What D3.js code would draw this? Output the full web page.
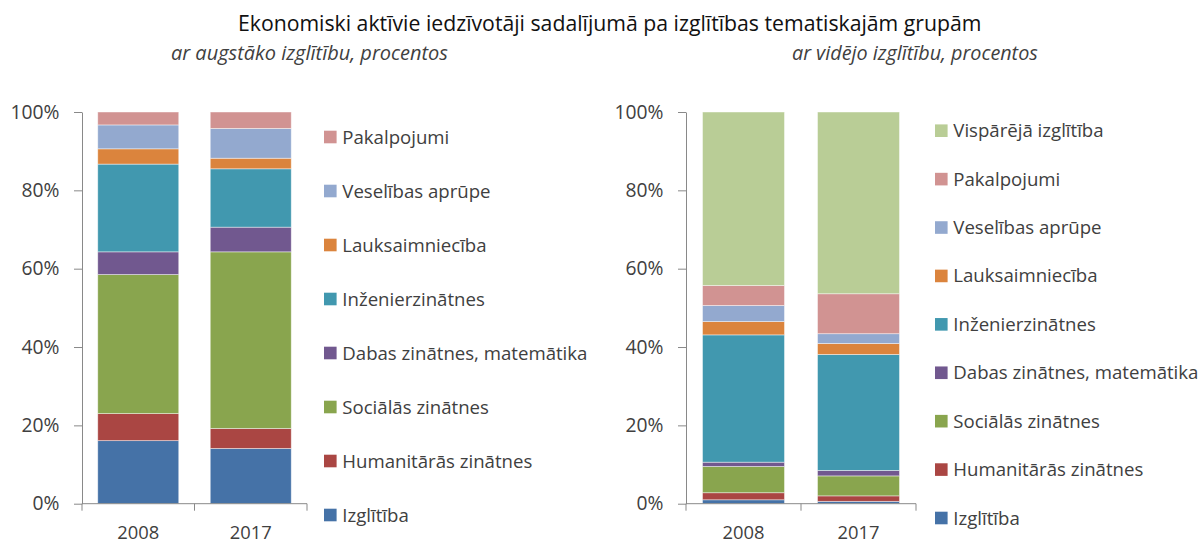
<!DOCTYPE html>
<html><head><meta charset="utf-8">
<script src="https://cdn.jsdelivr.net/npm/d3@7"></script>
<style>body{margin:0;background:#fff} text{font-family:"Open Sans","Noto Sans",sans-serif}</style>
</head><body><svg id="c" width="1203" height="545"></svg>
<script>
const years = ["2008", "2017"];
const groupsHigher = ["Izglītība", "Humanitārās zinātnes", "Sociālās zinātnes", "Dabas zinātnes, matemātika", "Inženierzinātnes", "Lauksaimniecība", "Veselības aprūpe", "Pakalpojumi"];
const higher2008 = [16.1, 6.9, 35.5, 5.8, 22.4, 3.9, 6.1, 3.3];
const higher2017 = [14.1, 5.1, 45.1, 6.3, 14.9, 2.7, 7.6, 4.2];
const groupsSecondary = ["Izglītība", "Humanitārās zinātnes", "Sociālās zinātnes", "Dabas zinātnes, matemātika", "Inženierzinātnes", "Lauksaimniecība", "Veselības aprūpe", "Pakalpojumi", "Vispārējā izglītība"];
const secondary2008 = [1.0, 1.8, 6.7, 1.1, 32.5, 3.4, 4.1, 5.1, 44.3];
const secondary2017 = [0.6, 1.4, 5.1, 1.4, 29.6, 2.8, 2.5, 10.2, 46.4];
const yTicks = [0, 20, 40, 60, 80, 100];
const titleText = "Ekonomiski aktīvie iedzīvotāji sadalījumā pa izglītības tematiskajām grupām";
const subtitleHigher = "ar augstāko izglītību, procentos";
const subtitleSecondary = "ar vidējo izglītību, procentos";

const palette = {
  "Izglītība": "#4572A7",
  "Humanitārās zinātnes": "#AA4643",
  "Sociālās zinātnes": "#89A54E",
  "Dabas zinātnes, matemātika": "#71588F",
  "Inženierzinātnes": "#4198AF",
  "Lauksaimniecība": "#DB843D",
  "Veselības aprūpe": "#93A9CF",
  "Pakalpojumi": "#D19392",
  "Vispārējā izglītība": "#B9CD96"
};

const svg = d3.select("#c");
const axisColor = "#898989";
const textColor = "#404040";

function fitWidth(sel, target) {
  const node = sel.node();
  const fs = parseFloat(sel.attr("font-size"));
  const w = node.getComputedTextLength();
  const nfs = fs * target / w;
  sel.attr("font-size", nfs);
  return nfs;
}

// Title and subtitles
const t = svg.append("text").attr("x", 609.7).attr("y", 31).attr("text-anchor", "middle")
  .attr("fill", "#111").attr("font-size", 20).text(titleText);
fitWidth(t, 744);
const s1 = svg.append("text").attr("x", 171).attr("y", 60).attr("font-style", "italic")
  .attr("fill", textColor).attr("font-size", 18).text(subtitleHigher);
fitWidth(s1, 277);
const s2 = svg.append("text").attr("x", 792).attr("y", 60).attr("font-style", "italic")
  .attr("fill", textColor).attr("font-size", 18).text(subtitleSecondary);
fitWidth(s2, 246);

// measure font sizes
const probe = svg.append("text").attr("font-size", 20).text("100%");
const tickFs = fitWidth(probe, 49);
probe.remove();
const probe2 = svg.append("text").attr("font-size", 20).text("2008");
const xFs = fitWidth(probe2, 42);
probe2.remove();
const probe3 = svg.append("text").attr("font-size", 20).text("Pakalpojumi");
const legFs = fitWidth(probe3, 107);
probe3.remove();

function drawChart(cfg) {
  const y = d3.scaleLinear().domain([0, 100]).range([503.7, 112]);
  const x = d3.scaleBand().domain(years).range([cfg.x0, cfg.x1]).paddingInner(cfg.pad).paddingOuter(cfg.pad / 2);
  const rows = years.map((yr, i) => {
    const r = { year: yr };
    cfg.groups.forEach((g, j) => r[g] = cfg.values[i][j]);
    return r;
  });
  const stacked = d3.stack().keys(cfg.groups)(rows);
  const g = svg.append("g");

  g.selectAll("g.series").data(stacked).join("g").attr("fill", d => palette[d.key])
    .selectAll("rect").data(d => d).join("rect")
    .attr("x", d => x(d.data.year))
    .attr("width", x.bandwidth())
    .attr("y", d => y(d[1]))
    .attr("height", d => y(d[0]) - y(d[1]))
    .attr("stroke", "#fff").attr("stroke-opacity", 0.55).attr("stroke-width", 0.8);

  // y axis
  const ya = g.append("g").attr("transform", `translate(${cfg.x0},0)`)
    .call(d3.axisLeft(y).tickValues(yTicks).tickFormat(d => d + "%").tickSize(8).tickSizeOuter(0));
  ya.select(".domain").attr("stroke", axisColor);
  ya.selectAll(".tick line").attr("stroke", axisColor);
  ya.selectAll(".tick text").attr("fill", textColor).attr("font-size", tickFs)
    .attr("font-family", "'Open Sans','Noto Sans',sans-serif").attr("x", -(cfg.x0 - cfg.labelRight));

  // x axis
  const xa = g.append("g").attr("transform", "translate(0,503.7)");
  xa.append("line").attr("x1", cfg.x0).attr("x2", cfg.x1).attr("stroke", axisColor);
  const bounds = [cfg.x0, ...years.map(yr => x(yr) + x.bandwidth() + x.step() * cfg.pad / 2)];
  xa.selectAll("line.tk").data(bounds).join("line").attr("class", "tk")
    .attr("x1", d => d).attr("x2", d => d).attr("y1", 0).attr("y2", 7).attr("stroke", axisColor);
  xa.selectAll("text").data(years).join("text")
    .attr("x", d => x(d) + x.bandwidth() / 2).attr("y", 35.5).attr("text-anchor", "middle")
    .attr("fill", textColor).attr("font-size", xFs).text(d => d);

  // legend
  const legendItems = cfg.groups.slice().reverse();
  const ly = d3.scalePoint().domain(legendItems).range(cfg.legendRange);
  const lg = g.append("g");
  const li = lg.selectAll("g").data(legendItems).join("g").attr("transform", d => `translate(${cfg.legendX},${ly(d)})`);
  li.append("rect").attr("x", 0).attr("y", -6.3).attr("width", 12.6).attr("height", 12.6).attr("fill", d => palette[d]);
  li.append("text").attr("x", 18.3).attr("y", 0).attr("dy", "0.35em").attr("fill", textColor)
    .attr("font-size", legFs).text(d => d);
}

drawChart({ x0: 82, x1: 307, pad: 0.28, groups: groupsHigher, values: [higher2008, higher2017],
  labelRight: 59.5, legendX: 324, legendRange: [137, 515] });
drawChart({ x0: 686, x1: 916, pad: 0.287, groups: groupsSecondary, values: [secondary2008, secondary2017],
  labelRight: 663.5, legendX: 935, legendRange: [130.7, 518] });
</script></body></html>
